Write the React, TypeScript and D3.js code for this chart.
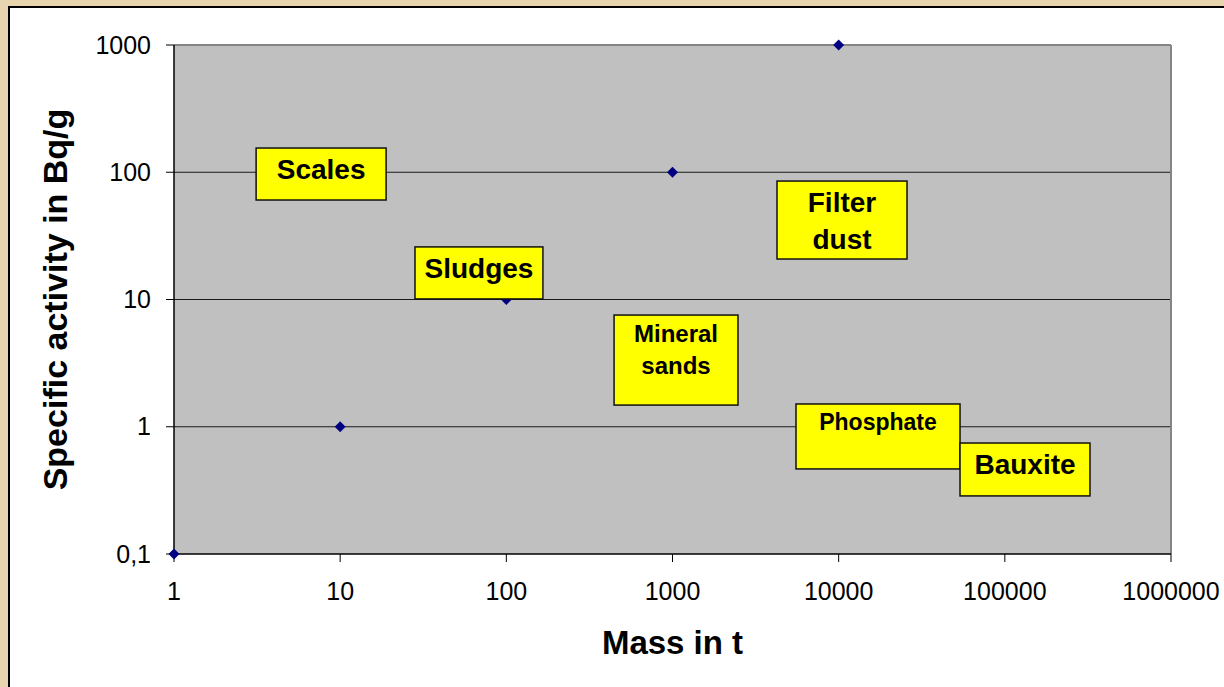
import React, { useEffect } from 'react';
import * as d3 from 'd3';

// mass in t / specific activity in Bq/g
const masses = [1, 10, 100, 1000, 10000];
const activities = [0.1, 1, 10, 100, 1000];

const xTicks = [1, 10, 100, 1000, 10000, 100000, 1000000];
const xTickLabels = ['1', '10', '100', '1000', '10000', '100000', '1000000'];
const yTicks = [0.1, 1, 10, 100, 1000];
const yTickLabels = ['0,1', '1', '10', '100', '1000'];

// text boxes placed in data units: [x0, x1, yTop, yBottom]
const boxNames = ['Scales', 'Sludges', 'Filter dust', 'Mineral sands', 'Phosphate', 'Bauxite'];
const boxLines = [['Scales'], ['Sludges'], ['Filter', 'dust'], ['Mineral', 'sands'], ['Phosphate'], ['Bauxite']];
const boxExtents = [
  [3.12, 18.9, 155, 60.5],
  [28.2, 166, 25.9, 10.1],
  [4255, 25780, 85.3, 20.8],
  [445, 2478, 7.55, 1.48],
  [5537, 53740, 1.51, 0.466],
  [53740, 325400, 0.745, 0.286],
];
const boxFontSizes = [28, 28, 28, 24, 23, 28];

const font = '"Liberation Sans", Arial, sans-serif';

const App = () => {
  useEffect(() => {
    document.body.style.margin = '0';
  }, []);

  const width = 1224;
  const height = 687;
  const margin = { left: 174, right: 53, top: 45, bottom: 133 };

  const x = d3.scaleLog().domain([1, 1000000]).range([margin.left, width - margin.right]);
  const y = d3.scaleLog().domain([0.1, 1000]).range([height - margin.bottom, margin.top]);

  const [x0, x1] = x.range();
  const [y0, y1] = y.range();

  const diamond = d3.symbol().type(d3.symbolSquare).size(60)();

  return (
    <svg width={width} height={height} style={{ display: 'block', fontFamily: font }}>
      {/* page frame */}
      <rect x={0} y={0} width={width} height={height} fill="#E8D4AE" />
      <rect x={10} y={8} width={width - 10} height={height - 8} fill="#fff" />
      <line x1={9} x2={9} y1={6} y2={height} stroke="#000" strokeWidth={2} />
      <line x1={8} x2={width} y1={7} y2={7} stroke="#000" strokeWidth={2} />

      {/* plot area */}
      <rect x={x0} y={y1} width={x1 - x0} height={y0 - y1} fill="#C0C0C0" />
      {yTicks.slice(1, -1).map((t) => (
        <line key={t} x1={x0} x2={x1} y1={y(t)} y2={y(t)} stroke="#1a1a1a" strokeWidth={1} />
      ))}
      <line x1={x0} x2={x1} y1={y1} y2={y1} stroke="#858585" strokeWidth={2} />
      <line x1={x1} x2={x1} y1={y1} y2={y0} stroke="#858585" strokeWidth={2} />
      <line x1={x0} x2={x0} y1={y1} y2={y0} stroke="#000" strokeWidth={1.5} />
      <line x1={x0} x2={x1} y1={y0} y2={y0} stroke="#000" strokeWidth={1.5} />

      {/* y axis */}
      {yTicks.map((t, i) => (
        <g key={t} transform={`translate(0,${y(t)})`}>
          <line x1={x0 - 8} x2={x0} stroke="#000" strokeWidth={1} />
          <text x={x0 - 23} dy={8.5} textAnchor="end" fontSize={25} fill="#000">
            {yTickLabels[i]}
          </text>
        </g>
      ))}

      {/* x axis */}
      {xTicks.map((t, i) => (
        <g key={t} transform={`translate(${x(t)},0)`}>
          <line y1={y0} y2={y0 + 8} stroke="#000" strokeWidth={1} />
          <text y={y0 + 46} textAnchor="middle" fontSize={25} fill="#000">
            {xTickLabels[i]}
          </text>
        </g>
      ))}

      {/* points */}
      {masses.map((m, i) => (
        <path
          key={m}
          d={diamond}
          transform={`translate(${x(m)},${y(activities[i])}) rotate(45)`}
          fill="#000080"
        />
      ))}

      {/* labels */}
      {boxNames.map((name, i) => {
        const [bx0, bx1, byTop, byBottom] = boxExtents[i];
        const left = x(bx0);
        const right = x(bx1);
        const top = y(byTop);
        const bottom = y(byBottom);
        const fs = boxFontSizes[i];
        return (
          <g key={name}>
            <rect
              x={left}
              y={top}
              width={right - left}
              height={bottom - top}
              fill="#FFFF00"
              stroke="#111"
              strokeWidth={1.5}
            />
            {boxLines[i].map((line, j) => (
              <text
                key={line}
                x={(left + right) / 2}
                y={top + fs + 3 + j * fs * 1.33}
                textAnchor="middle"
                fontSize={fs}
                fontWeight="bold"
                fill="#000"
              >
                {line}
              </text>
            ))}
          </g>
        );
      })}

      {/* axis titles */}
      <text x={(x0 + x1) / 2} y={654} textAnchor="middle" fontSize={33} fontWeight="bold" fill="#000">
        Mass in t
      </text>
      <text
        transform={`translate(67,${(y0 + y1) / 2}) rotate(-90)`}
        textAnchor="middle"
        fontSize={34}
        fontWeight="bold"
        fill="#000"
      >
        Specific activity in Bq/g
      </text>
    </svg>
  );
};

export default App;
